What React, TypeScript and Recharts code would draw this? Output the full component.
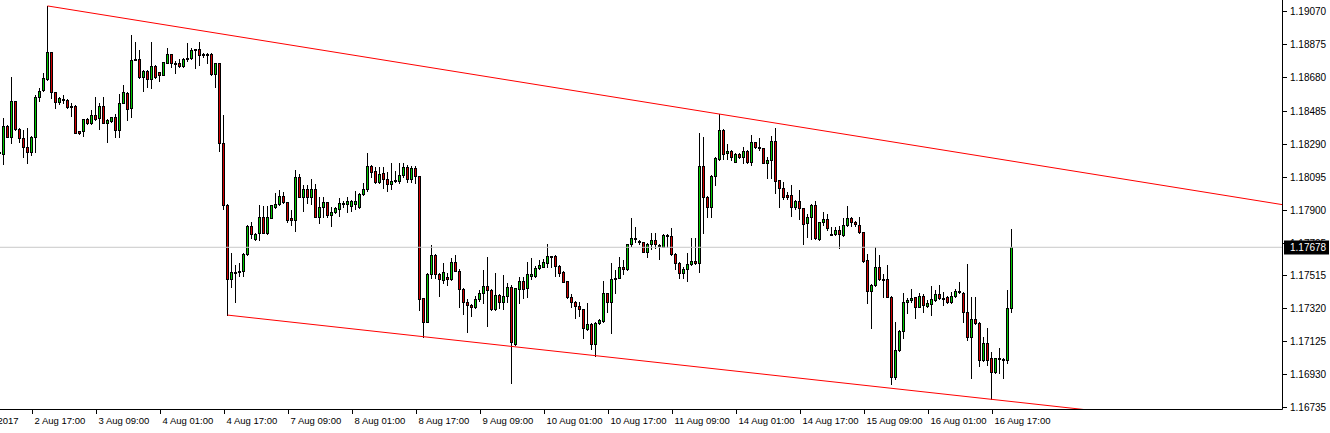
import React from 'react';
import { ComposedChart, Bar, XAxis, YAxis, ReferenceLine } from 'recharts';

// EURUSD H1 candles, index -1 is the partially visible bar at the left edge
const FIRST_INDEX = -1;

const opens = [
  1.18238, 1.18228, 1.18393, 1.18331, 1.18541, 1.18374, 1.18321, 1.18268, 1.18242, 1.18327,
  1.18563, 1.18604, 1.18673, 1.18828, 1.18592, 1.18533, 1.18553, 1.18547, 1.18510, 1.18511,
  1.18362, 1.18364, 1.18433, 1.18409, 1.18456, 1.18439, 1.18510, 1.18409, 1.18425, 1.18445,
  1.18372, 1.18531, 1.18586, 1.18498, 1.18785, 1.18787, 1.18685, 1.18718, 1.18669, 1.18746,
  1.18710, 1.18696, 1.18767, 1.18818, 1.18767, 1.18763, 1.18746, 1.18787, 1.18793, 1.18846,
  1.18846, 1.18818, 1.18818, 1.18818, 1.18698, 1.18763, 1.18291, 1.17925, 1.17493, 1.17532,
  1.17534, 1.17540, 1.17636, 1.17803, 1.17725, 1.17760, 1.17855, 1.17764, 1.17853, 1.17918,
  1.17931, 1.17981, 1.17943, 1.17849, 1.17841, 1.18091, 1.17977, 1.18020, 1.17973, 1.18020,
  1.17859, 1.17918, 1.17943, 1.17866, 1.17884, 1.17906, 1.17937, 1.17933, 1.17924, 1.17931,
  1.17914, 1.17992, 1.18020, 1.18158, 1.18126, 1.18065, 1.18114, 1.18079, 1.18049, 1.18071,
  1.18071, 1.18103, 1.18150, 1.18079, 1.18144, 1.18099, 1.17377, 1.17239, 1.17518, 1.17632,
  1.17518, 1.17485, 1.17503, 1.17489, 1.17589, 1.17540, 1.17430, 1.17353, 1.17337, 1.17324,
  1.17371, 1.17406, 1.17447, 1.17426, 1.17312, 1.17394, 1.17353, 1.17390, 1.17446, 1.17107,
  1.17430, 1.17479, 1.17436, 1.17510, 1.17510, 1.17554, 1.17563, 1.17587, 1.17626, 1.17626,
  1.17567, 1.17532, 1.17479, 1.17385, 1.17355, 1.17331, 1.17312, 1.17198, 1.17225, 1.17105,
  1.17229, 1.17245, 1.17406, 1.17357, 1.17499, 1.17499, 1.17560, 1.17548, 1.17695, 1.17729,
  1.17711, 1.17707, 1.17652, 1.17695, 1.17719, 1.17691, 1.17682, 1.17748, 1.17744, 1.17636,
  1.17587, 1.17528, 1.17548, 1.17577, 1.17595, 1.17583, 1.18158, 1.17977, 1.17918, 1.18099,
  1.18197, 1.18370, 1.18232, 1.18246, 1.18183, 1.18228, 1.18209, 1.18246, 1.18183, 1.18297,
  1.18268, 1.18262, 1.18177, 1.18191, 1.18305, 1.18073, 1.18030, 1.17984, 1.17984, 1.17918,
  1.17951, 1.17908, 1.17819, 1.17855, 1.17927, 1.17725, 1.17825, 1.17843, 1.17758, 1.17754,
  1.17780, 1.17750, 1.17807, 1.17849, 1.17825, 1.17811, 1.17766, 1.17601, 1.17422, 1.17457,
  1.17562, 1.17493, 1.17493, 1.17386, 1.16914, 1.17072, 1.17182, 1.17353, 1.17365, 1.17385,
  1.17327, 1.17390, 1.17331, 1.17345, 1.17367, 1.17402, 1.17381, 1.17386, 1.17357, 1.17390,
  1.17420, 1.17410, 1.17298, 1.17150, 1.17255, 1.17233, 1.17011, 1.17111, 1.17023, 1.16940,
  1.17017, 1.17019, 1.17013, 1.17322,
];

const highs = [
  1.18252, 1.18439, 1.18399, 1.18683, 1.18543, 1.18384, 1.18370, 1.18384, 1.18334, 1.18576,
  1.18616, 1.18708, 1.19102, 1.18830, 1.18596, 1.18567, 1.18576, 1.18551, 1.18527, 1.18515,
  1.18366, 1.18437, 1.18439, 1.18488, 1.18563, 1.18527, 1.18567, 1.18435, 1.18449, 1.18464,
  1.18582, 1.18635, 1.18596, 1.18930, 1.18887, 1.18842, 1.18724, 1.18724, 1.18887, 1.18753,
  1.18714, 1.18773, 1.18852, 1.18820, 1.18777, 1.18791, 1.18793, 1.18885, 1.18852, 1.18850,
  1.18889, 1.18822, 1.18826, 1.18822, 1.18767, 1.18767, 1.18458, 1.17933, 1.17642, 1.17573,
  1.17583, 1.17642, 1.17807, 1.17829, 1.17760, 1.17927, 1.17922, 1.17922, 1.17927, 1.17996,
  1.18016, 1.18006, 1.17947, 1.17898, 1.18134, 1.18110, 1.18045, 1.18045, 1.18079, 1.18049,
  1.17977, 1.17977, 1.17947, 1.17914, 1.17914, 1.17967, 1.17953, 1.17977, 1.17957, 1.18008,
  1.17996, 1.18055, 1.18236, 1.18163, 1.18154, 1.18150, 1.18154, 1.18124, 1.18173, 1.18130,
  1.18173, 1.18177, 1.18163, 1.18158, 1.18158, 1.18101, 1.17379, 1.17524, 1.17691, 1.17638,
  1.17528, 1.17583, 1.17524, 1.17613, 1.17632, 1.17548, 1.17436, 1.17373, 1.17343, 1.17390,
  1.17426, 1.17544, 1.17619, 1.17430, 1.17524, 1.17402, 1.17514, 1.17465, 1.17455, 1.17440,
  1.17504, 1.17504, 1.17589, 1.17613, 1.17567, 1.17603, 1.17607, 1.17695, 1.17628, 1.17632,
  1.17571, 1.17538, 1.17481, 1.17402, 1.17363, 1.17353, 1.17316, 1.17347, 1.17229, 1.17237,
  1.17253, 1.17481, 1.17410, 1.17583, 1.17544, 1.17623, 1.17603, 1.17697, 1.17849, 1.17796,
  1.17721, 1.17711, 1.17701, 1.17760, 1.17760, 1.17697, 1.17756, 1.17756, 1.17794, 1.17642,
  1.17593, 1.17563, 1.17642, 1.17731, 1.17731, 1.18350, 1.18327, 1.17981, 1.18104, 1.18209,
  1.18464, 1.18374, 1.18287, 1.18252, 1.18232, 1.18236, 1.18272, 1.18252, 1.18340, 1.18301,
  1.18323, 1.18266, 1.18209, 1.18335, 1.18380, 1.18075, 1.18065, 1.18006, 1.18045, 1.17957,
  1.18016, 1.17912, 1.17874, 1.17933, 1.17951, 1.17829, 1.17884, 1.17872, 1.17800, 1.17800,
  1.17803, 1.17849, 1.17922, 1.17855, 1.17833, 1.17859, 1.17770, 1.17636, 1.17459, 1.17678,
  1.17632, 1.17520, 1.17571, 1.17390, 1.17237, 1.17190, 1.17406, 1.17381, 1.17430, 1.17386,
  1.17406, 1.17402, 1.17367, 1.17449, 1.17426, 1.17455, 1.17416, 1.17390, 1.17416, 1.17434,
  1.17475, 1.17414, 1.17579, 1.17386, 1.17386, 1.17239, 1.17150, 1.17200, 1.17058, 1.17027,
  1.17086, 1.17027, 1.17426, 1.17786,
];

const lows = [
  1.18222, 1.18167, 1.18327, 1.18295, 1.18370, 1.18301, 1.18213, 1.18177, 1.18222, 1.18242,
  1.18543, 1.18600, 1.18665, 1.18561, 1.18498, 1.18523, 1.18527, 1.18498, 1.18454, 1.18350,
  1.18348, 1.18336, 1.18405, 1.18405, 1.18429, 1.18374, 1.18409, 1.18301, 1.18419, 1.18331,
  1.18331, 1.18527, 1.18429, 1.18449, 1.18783, 1.18675, 1.18602, 1.18626, 1.18616, 1.18675,
  1.18661, 1.18694, 1.18763, 1.18744, 1.18704, 1.18744, 1.18740, 1.18779, 1.18787, 1.18734,
  1.18755, 1.18803, 1.18767, 1.18694, 1.18626, 1.18248, 1.17906, 1.17278, 1.17445, 1.17357,
  1.17508, 1.17508, 1.17632, 1.17731, 1.17721, 1.17721, 1.17760, 1.17756, 1.17849, 1.17908,
  1.17927, 1.17937, 1.17829, 1.17809, 1.17776, 1.17973, 1.17894, 1.17937, 1.17933, 1.17855,
  1.17823, 1.17859, 1.17855, 1.17804, 1.17878, 1.17865, 1.17914, 1.17888, 1.17894, 1.17904,
  1.17910, 1.17986, 1.18012, 1.18095, 1.18055, 1.18059, 1.18026, 1.18012, 1.18020, 1.18061,
  1.18055, 1.18095, 1.18065, 1.18061, 1.18059, 1.17308, 1.17147, 1.17235, 1.17495, 1.17495,
  1.17392, 1.17465, 1.17455, 1.17485, 1.17538, 1.17328, 1.17282, 1.17180, 1.17274, 1.17318,
  1.17363, 1.17351, 1.17215, 1.17308, 1.17308, 1.17318, 1.17314, 1.17353, 1.16879, 1.17101,
  1.17349, 1.17376, 1.17386, 1.17491, 1.17504, 1.17550, 1.17560, 1.17563, 1.17563, 1.17510,
  1.17510, 1.17471, 1.17377, 1.17324, 1.17259, 1.17273, 1.17145, 1.17190, 1.17076, 1.17038,
  1.17223, 1.17239, 1.17298, 1.17170, 1.17406, 1.17495, 1.17518, 1.17542, 1.17687, 1.17711,
  1.17697, 1.17648, 1.17623, 1.17668, 1.17672, 1.17611, 1.17678, 1.17682, 1.17632, 1.17548,
  1.17495, 1.17499, 1.17481, 1.17573, 1.17579, 1.17534, 1.17764, 1.17859, 1.17855, 1.18045,
  1.18193, 1.18197, 1.18197, 1.18193, 1.18179, 1.18205, 1.18177, 1.18173, 1.18161, 1.18262,
  1.18252, 1.18173, 1.18089, 1.18085, 1.18000, 1.17918, 1.17961, 1.17963, 1.17863, 1.17902,
  1.17843, 1.17695, 1.17741, 1.17727, 1.17725, 1.17721, 1.17809, 1.17780, 1.17750, 1.17750,
  1.17672, 1.17746, 1.17803, 1.17805, 1.17803, 1.17760, 1.17593, 1.17351, 1.17200, 1.17451,
  1.17485, 1.17383, 1.17383, 1.16869, 1.16899, 1.17068, 1.17141, 1.17288, 1.17357, 1.17263,
  1.17324, 1.17298, 1.17327, 1.17278, 1.17363, 1.17375, 1.17335, 1.17351, 1.17351, 1.17386,
  1.17406, 1.17235, 1.17131, 1.16908, 1.17225, 1.16979, 1.17007, 1.16981, 1.16781, 1.16934,
  1.16938, 1.16905, 1.16993, 1.17298,
];

const closes = [
  1.18234, 1.18393, 1.18331, 1.18541, 1.18374, 1.18321, 1.18268, 1.18242, 1.18331, 1.18563,
  1.18600, 1.18675, 1.18828, 1.18592, 1.18533, 1.18557, 1.18545, 1.18508, 1.18508, 1.18354,
  1.18354, 1.18433, 1.18409, 1.18456, 1.18437, 1.18510, 1.18411, 1.18429, 1.18445, 1.18372,
  1.18527, 1.18592, 1.18492, 1.18781, 1.18787, 1.18685, 1.18718, 1.18669, 1.18746, 1.18681,
  1.18696, 1.18771, 1.18818, 1.18763, 1.18765, 1.18746, 1.18787, 1.18793, 1.18840, 1.18844,
  1.18814, 1.18816, 1.18816, 1.18698, 1.18763, 1.18295, 1.17929, 1.17493, 1.17530, 1.17534,
  1.17538, 1.17636, 1.17803, 1.17754, 1.17754, 1.17855, 1.17764, 1.17855, 1.17925, 1.17933,
  1.17981, 1.17943, 1.17841, 1.17841, 1.18091, 1.17977, 1.18020, 1.17977, 1.18020, 1.17859,
  1.17914, 1.17943, 1.17866, 1.17884, 1.17908, 1.17937, 1.17939, 1.17951, 1.17951, 1.17951,
  1.17992, 1.18020, 1.18158, 1.18124, 1.18065, 1.18110, 1.18079, 1.18051, 1.18069, 1.18073,
  1.18103, 1.18150, 1.18079, 1.18144, 1.18099, 1.17373, 1.17239, 1.17518, 1.17632, 1.17518,
  1.17489, 1.17530, 1.17489, 1.17589, 1.17540, 1.17430, 1.17353, 1.17337, 1.17324, 1.17371,
  1.17406, 1.17447, 1.17426, 1.17312, 1.17394, 1.17357, 1.17390, 1.17446, 1.17117, 1.17436,
  1.17479, 1.17434, 1.17518, 1.17522, 1.17558, 1.17573, 1.17591, 1.17626, 1.17618, 1.17567,
  1.17528, 1.17475, 1.17383, 1.17353, 1.17333, 1.17312, 1.17200, 1.17225, 1.17105, 1.17233,
  1.17249, 1.17406, 1.17357, 1.17491, 1.17495, 1.17560, 1.17548, 1.17695, 1.17731, 1.17731,
  1.17713, 1.17652, 1.17697, 1.17719, 1.17695, 1.17689, 1.17750, 1.17750, 1.17636, 1.17587,
  1.17524, 1.17550, 1.17577, 1.17595, 1.17583, 1.18158, 1.17977, 1.17918, 1.18099, 1.18203,
  1.18370, 1.18226, 1.18246, 1.18209, 1.18228, 1.18209, 1.18246, 1.18183, 1.18297, 1.18268,
  1.18266, 1.18177, 1.18191, 1.18305, 1.18071, 1.18030, 1.17973, 1.17977, 1.17918, 1.17951,
  1.17908, 1.17813, 1.17855, 1.17927, 1.17731, 1.17825, 1.17843, 1.17790, 1.17756, 1.17780,
  1.17754, 1.17807, 1.17849, 1.17825, 1.17813, 1.17766, 1.17599, 1.17422, 1.17457, 1.17562,
  1.17491, 1.17491, 1.17386, 1.16910, 1.17072, 1.17186, 1.17355, 1.17367, 1.17377, 1.17327,
  1.17390, 1.17337, 1.17351, 1.17371, 1.17402, 1.17379, 1.17379, 1.17357, 1.17390, 1.17422,
  1.17416, 1.17298, 1.17150, 1.17255, 1.17229, 1.17011, 1.17111, 1.17011, 1.16940, 1.17023,
  1.17023, 1.17017, 1.17322, 1.17678,
];

// time axis labels (bar index of each label)
const timeTickIndex = [-8, 8, 24, 40, 56, 72, 88, 104, 120, 136, 152, 168, 184, 200, 216, 232, 248];
const timeTickLabels = [
  '2 Aug 2017', '2 Aug 17:00', '3 Aug 09:00', '4 Aug 01:00', '4 Aug 17:00', '7 Aug 09:00',
  '8 Aug 01:00', '8 Aug 17:00', '9 Aug 09:00', '10 Aug 01:00', '10 Aug 17:00', '11 Aug 09:00',
  '14 Aug 01:00', '14 Aug 17:00', '15 Aug 09:00', '16 Aug 01:00', '16 Aug 17:00',
];

// price scale labels
const priceTicks = [
  1.16735, 1.1693, 1.17125, 1.1732, 1.17515, 1.17705, 1.179, 1.18095, 1.1829, 1.18485, 1.1868,
  1.18875, 1.1907,
];
const lastPrice = 1.17678;

// trend channel anchors [barIndex, price]
const upperAnchors = [[11, 1.19102], [179, 1.18464]];
const lowerAnchors = [[56, 1.17278], [247, 1.16781]];

// visible ranges
const X_DOMAIN: [number, number] = [-0.875, 319.75];
const Y_DOMAIN: [number, number] = [1.16721, 1.19137];

const GREEN = '#00c800';
const RED = '#d00000';
const FONT = '"Liberation Sans", Arial, sans-serif';

const data = opens.map((o, i) => ({
  idx: FIRST_INDEX + i,
  o,
  h: highs[i],
  l: lows[i],
  c: closes[i],
  range: [lows[i], highs[i]],
}));

function ray(anchors: number[][], xEnd: number) {
  const [[x1, y1], [x2, y2]] = anchors;
  const slope = (y2 - y1) / (x2 - x1);
  return [
    { x: x1, y: y1 },
    { x: xEnd, y: y1 + slope * (xEnd - x1) },
  ];
}

function Candle(props: any) {
  const { x, y, width, height } = props;
  const d = props.payload ?? props;
  if (x == null || y == null || d == null || d.o == null) return null;
  const yHigh = Math.min(y, y + height);
  const yLow = Math.max(y, y + height);
  const span = d.h - d.l;
  const k = span > 0 ? (yLow - yHigh) / span : 0;
  const py = (v: number) => yHigh + (d.h - v) * k;
  const cx = Math.floor(x + width / 2) + 0.5;
  const wTop = Math.round(yHigh);
  const wBot = Math.round(yLow);
  const bTop = Math.round(py(Math.max(d.o, d.c)));
  let bBot = Math.round(py(Math.min(d.o, d.c)));
  if (bBot < bTop + 1) bBot = bTop + 1;
  const bull = d.c >= d.o;
  return (
    <g>
      <line x1={cx} x2={cx} y1={wTop} y2={wBot + 1} stroke="#000" strokeWidth={1} shapeRendering="crispEdges" />
      <rect
        x={cx - 1}
        y={bTop + 0.5}
        width={2}
        height={bBot - bTop}
        fill={bull ? GREEN : RED}
        stroke="#000"
        strokeWidth={1}
        shapeRendering="crispEdges"
      />
    </g>
  );
}

function TimeTick(props: any) {
  const { x, y, payload } = props;
  const i = timeTickIndex.indexOf(payload.value);
  const label = i >= 0 ? timeTickLabels[i] : '';
  const tx = Math.floor(x) - 2.5;
  return (
    <g>
      <line x1={tx} x2={tx} y1={y} y2={y + 4} stroke="#000" strokeWidth={1} shapeRendering="crispEdges" />
      <text x={tx + 2} y={y + 14.5} fontSize={9.5} fontFamily={FONT} fill="#000" textAnchor="start">
        {label}
      </text>
    </g>
  );
}

function PriceTick(props: any) {
  const { x, y, payload } = props;
  const v = payload.value as number;
  const ty = Math.round(y) + 0.5;
  if (v === lastPrice) {
    return (
      <g>
        <rect x={x + 1.5} y={ty - 7} width={45} height={14} fill="#000" />
        <text x={x + 7.5} y={ty + 3.5} fontSize={10} fontFamily={FONT} fill="#fff" textAnchor="start">
          {v.toFixed(5)}
        </text>
      </g>
    );
  }
  return (
    <g>
      <line x1={x} x2={x + 4} y1={ty} y2={ty} stroke="#000" strokeWidth={1} shapeRendering="crispEdges" />
      <text x={x + 7.5} y={ty + 3.5} fontSize={10} fontFamily={FONT} fill="#000" textAnchor="start">
        {v.toFixed(5)}
      </text>
    </g>
  );
}

export default function App() {
  return (
    <div style={{ position: 'absolute', left: 0, top: 0, width: 1330, height: 433, background: '#fff' }}>
      <ComposedChart
        width={1330}
        height={433}
        data={data}
        margin={{ top: 0, right: 0, bottom: 0, left: 0 }}
        barCategoryGap={0}
        barGap={0}
      >
        <XAxis
          dataKey="idx"
          type="number"
          domain={X_DOMAIN}
          allowDataOverflow
          ticks={timeTickIndex}
          interval={0}
          tick={(p: any) => <TimeTick {...p} />}
          tickLine={false}
          tickSize={0}
          tickMargin={0}
          axisLine={{ stroke: '#000' }}
          height={23.5}
        />
        <YAxis
          orientation="right"
          type="number"
          domain={Y_DOMAIN}
          allowDataOverflow
          ticks={[...priceTicks, lastPrice]}
          interval={0}
          tick={(p: any) => <PriceTick {...p} />}
          tickLine={false}
          tickSize={0}
          tickMargin={0}
          axisLine={{ stroke: '#000' }}
          width={47.5}
        />
        <ReferenceLine y={lastPrice} stroke="#c8c8c8" strokeWidth={1} />
        <Bar dataKey="range" shape={(p: any) => <Candle {...p} />} isAnimationActive={false} />
        <ReferenceLine segment={ray(upperAnchors, X_DOMAIN[1] + 5)} stroke="#ff0000" strokeWidth={1} ifOverflow="hidden" />
        <ReferenceLine segment={ray(lowerAnchors, X_DOMAIN[1] + 5)} stroke="#ff0000" strokeWidth={1} ifOverflow="hidden" />
      </ComposedChart>
    </div>
  );
}
